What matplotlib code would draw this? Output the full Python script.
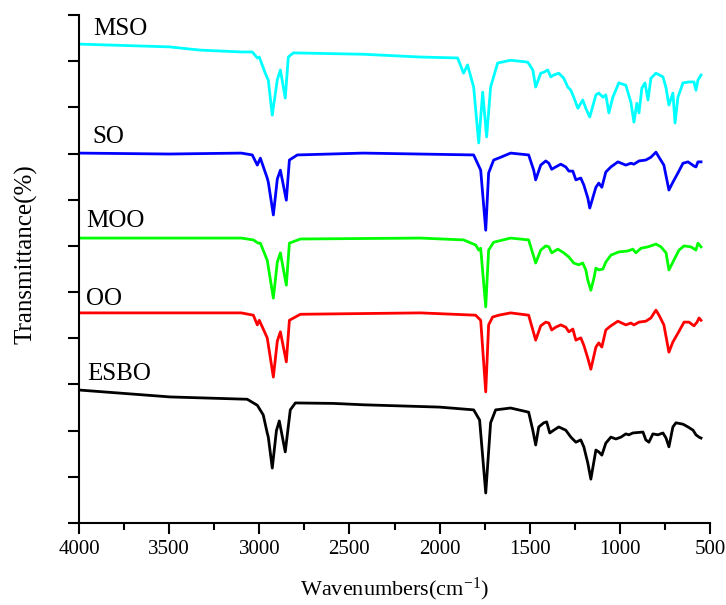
import numpy as np
import matplotlib.pyplot as plt
from matplotlib.ticker import MultipleLocator

plt.rcParams['font.family'] = ['Liberation Serif', 'DejaVu Serif']
plt.rcParams['mathtext.default'] = 'regular'

# FTIR spectra (wavenumber in cm-1, stacked transmittance in a.u.)
wn_mso = [4000, 3500, 3328, 3100, 3039, 3011, 3000, 2967, 2950, 2928, 2900, 2883, 2856, 2839, 2811,
          2422, 2106, 1900, 1867, 1845, 1811, 1783, 1761, 1739, 1717, 1678, 1606, 1511, 1483,
          1467, 1439, 1422, 1400, 1383, 1367, 1339, 1311, 1289, 1272, 1256, 1233, 1206, 1189,
          1167, 1133, 1117, 1094, 1078, 1061, 1039, 1006, 967, 939, 922, 906, 894, 878, 861,
          844, 828, 800, 761, 744, 728, 706, 694, 678, 650, 617, 589, 578, 567, 550]
t_mso = [103.7, 103.1, 102.4, 102.0, 102.0, 100.7, 100.9, 97.4, 95.9, 88.3, 96.0, 98.1, 92.0, 100.9, 101.8,
         101.5, 100.9, 100.7, 97.4, 99.2, 94.4, 82.3, 93.3, 83.6, 94.4, 99.6, 100.2, 99.8, 98.1,
         94.4, 97.4, 97.6, 98.1, 96.6, 97.0, 97.4, 96.3, 94.4, 93.7, 92.2, 89.8, 91.6, 89.8,
         87.9, 92.7, 93.1, 92.2, 92.7, 88.8, 92.2, 95.3, 94.8, 91.1, 86.8, 90.9, 88.8, 94.2, 95.3,
         91.6, 96.3, 97.4, 96.6, 94.2, 90.5, 93.1, 86.6, 92.2, 95.3, 95.5, 95.5, 93.7, 95.9, 97.0]

wn_so = [4000, 3500, 3100, 3039, 3011, 2994, 2956, 2950, 2922, 2900, 2883, 2850, 2833, 2789, 2422,
         1811, 1772, 1744, 1728, 1700, 1661, 1606, 1506, 1478, 1467, 1439, 1411, 1394, 1378,
         1356, 1328, 1300, 1283, 1261, 1244, 1217, 1200, 1178, 1167, 1133, 1117, 1100, 1078,
         1050, 1011, 967, 939, 922, 894, 856, 828, 800, 783, 756, 728, 706, 678, 650, 622,
         589, 578, 567, 550]
t_so = [80.1, 79.9, 80.1, 79.7, 77.5, 79.0, 74.7, 73.8, 66.7, 74.5, 76.4, 69.9, 78.6, 79.7, 80.1,
        79.7, 76.4, 63.4, 75.8, 78.6, 79.2, 80.1, 79.7, 76.4, 74.3, 77.5, 78.4, 77.9, 76.6,
        77.1, 77.7, 77.1, 76.2, 76.2, 74.3, 74.7, 73.2, 70.4, 68.2, 72.7, 73.6, 72.7, 76.0,
        77.1, 78.2, 77.5, 77.9, 77.7, 78.4, 78.6, 79.2, 80.3, 79.2, 77.5, 72.1, 73.8, 75.8, 77.9, 78.2,
        77.3, 77.1, 78.2, 78.2]

wn_moo = [4000, 3100, 3033, 3006, 2994, 2956, 2922, 2900, 2883, 2850, 2833, 2772, 2106, 1867, 1800,
          1783, 1772, 1744, 1728, 1700, 1606, 1506, 1467, 1439, 1411, 1394, 1378, 1344, 1311,
          1283, 1256, 1228, 1206, 1189, 1178, 1161, 1144, 1133, 1117, 1094, 1078, 1050, 1006,
          956, 928, 911, 883, 844, 800, 772, 744, 728, 706, 672, 644, 606, 578, 567, 550]
t_moo = [61.7, 61.7, 61.3, 60.6, 60.6, 56.9, 48.7, 56.5, 58.5, 51.5, 60.6, 61.5, 61.7, 61.3, 60.2,
         59.1, 59.5, 46.8, 59.1, 60.8, 61.7, 61.3, 56.3, 59.1, 60.0, 59.8, 58.5, 59.3, 58.5,
         57.6, 56.3, 55.9, 56.3, 54.8, 52.6, 50.4, 53.0, 55.2, 54.8, 55.0, 56.5, 58.0, 58.7,
         58.9, 59.3, 58.5, 59.5, 59.8, 60.4, 59.8, 58.5, 54.8, 56.5, 59.1, 60.0, 59.8, 59.1, 60.6, 59.8]

wn_oo = [4000, 3100, 3033, 3011, 3000, 2956, 2922, 2900, 2883, 2850, 2833, 2772, 2106, 1800, 1772,
         1744, 1728, 1706, 1672, 1606, 1506, 1467, 1439, 1411, 1394, 1378, 1356, 1328, 1300,
         1283, 1261, 1244, 1217, 1200, 1178, 1161, 1133, 1117, 1100, 1078, 1050, 1011, 967,
         939, 922, 894, 856, 828, 800, 783, 756, 728, 706, 678, 644, 617, 589, 572, 561, 550]
t_oo = [45.5, 45.5, 45.0, 42.9, 43.9, 40.1, 31.6, 39.4, 41.4, 34.9, 43.9, 45.2, 45.5, 45.0, 43.9,
        28.4, 42.9, 44.6, 45.0, 45.5, 45.0, 39.6, 42.7, 43.5, 43.3, 41.8, 42.4, 42.9, 42.4,
        41.4, 42.0, 39.6, 40.1, 38.5, 35.7, 33.3, 38.1, 39.0, 38.1, 41.8, 42.7, 43.7, 42.9,
        43.3, 42.9, 43.5, 43.7, 44.4, 46.1, 45.0, 42.9, 37.0, 39.2, 41.1, 43.5, 43.5, 42.7, 43.5, 44.4, 43.9]

wn_esbo = [4000, 3494, 3067, 3011, 2978, 2956, 2950, 2928, 2905, 2889, 2856, 2828, 2800, 2589, 2422,
           2000, 1811, 1778, 1744, 1717, 1689, 1606, 1506, 1483, 1467, 1450, 1422, 1406, 1389,
           1367, 1339, 1300, 1272, 1244, 1217, 1200, 1178, 1161, 1133, 1117, 1100, 1078, 1050,
           1022, 994, 967, 950, 928, 872, 856, 839, 817, 789, 761, 744, 728, 706, 689, 650,
           622, 594, 578, 561, 550]
t_esbo = [28.8, 27.3, 26.8, 25.5, 23.4, 19.5, 18.6, 11.9, 20.0, 22.1, 15.4, 24.5, 26.0, 25.9, 25.6,
          25.1, 24.5, 22.3, 6.5, 21.7, 24.5, 24.9, 24.0, 20.1, 16.9, 20.8, 21.7, 21.9, 19.5,
          20.1, 20.8, 20.1, 18.6, 17.5, 18.0, 16.5, 13.0, 9.5, 15.8, 15.4, 14.7, 17.3, 18.6,
          18.2, 18.6, 19.3, 19.1, 19.5, 19.7, 18.0, 17.5, 19.3, 19.1, 19.5, 18.4, 16.5, 20.8, 21.7, 21.4,
          20.8, 20.1, 19.1, 18.6, 18.4]

names = ['MSO', 'SO', 'MOO', 'OO', 'ESBO']
colors = ['#00FFFF', '#0000FF', '#00FF00', '#FF0000', '#000000']

fig = plt.figure(figsize=(7.26, 6.05), dpi=100)
ax = fig.add_axes([0.1088, 0.1355, 0.8692, 0.8397])

ax.plot(wn_mso, t_mso, color=colors[0], lw=2)
ax.plot(wn_so, t_so, color=colors[1], lw=2)
ax.plot(wn_moo, t_moo, color=colors[2], lw=2)
ax.plot(wn_oo, t_oo, color=colors[3], lw=2)
ax.plot(wn_esbo, t_esbo, color=colors[4], lw=2)

# curve names
ax.text(3922, 105.6, names[0], fontsize=18, va='baseline')
ax.text(3928, 82.3, names[1], fontsize=18, va='baseline')
ax.text(3961, 64.1, names[2], fontsize=18, va='baseline')
ax.text(3961, 47.2, names[3], fontsize=18, va='baseline')
ax.text(3956, 31.0, names[4], fontsize=18, va='baseline')

ax.set_xlim(4000, 500)
ax.set_ylim(0, 110)
ax.xaxis.set_major_locator(MultipleLocator(500))
ax.xaxis.set_minor_locator(MultipleLocator(250))
ax.set_yticks(np.arange(0, 111, 10))
ax.set_yticklabels([])

for s in ['top', 'right']:
    ax.spines[s].set_visible(False)
for s in ['left', 'bottom']:
    ax.spines[s].set_linewidth(1.5)
ax.tick_params(axis='both', which='major', direction='out', length=8, width=1.5, labelsize=15, pad=4)
ax.tick_params(axis='x', which='minor', direction='out', length=5, width=1.5)

ax.set_xlabel('Wavenumbers(cm$^{-1}$)', fontsize=16, labelpad=12)
ax.set_ylabel('Transmittance(%)', fontsize=18)
ax.yaxis.set_label_coords(-0.066, 0.53)

fig.savefig('out.png', dpi=100)
